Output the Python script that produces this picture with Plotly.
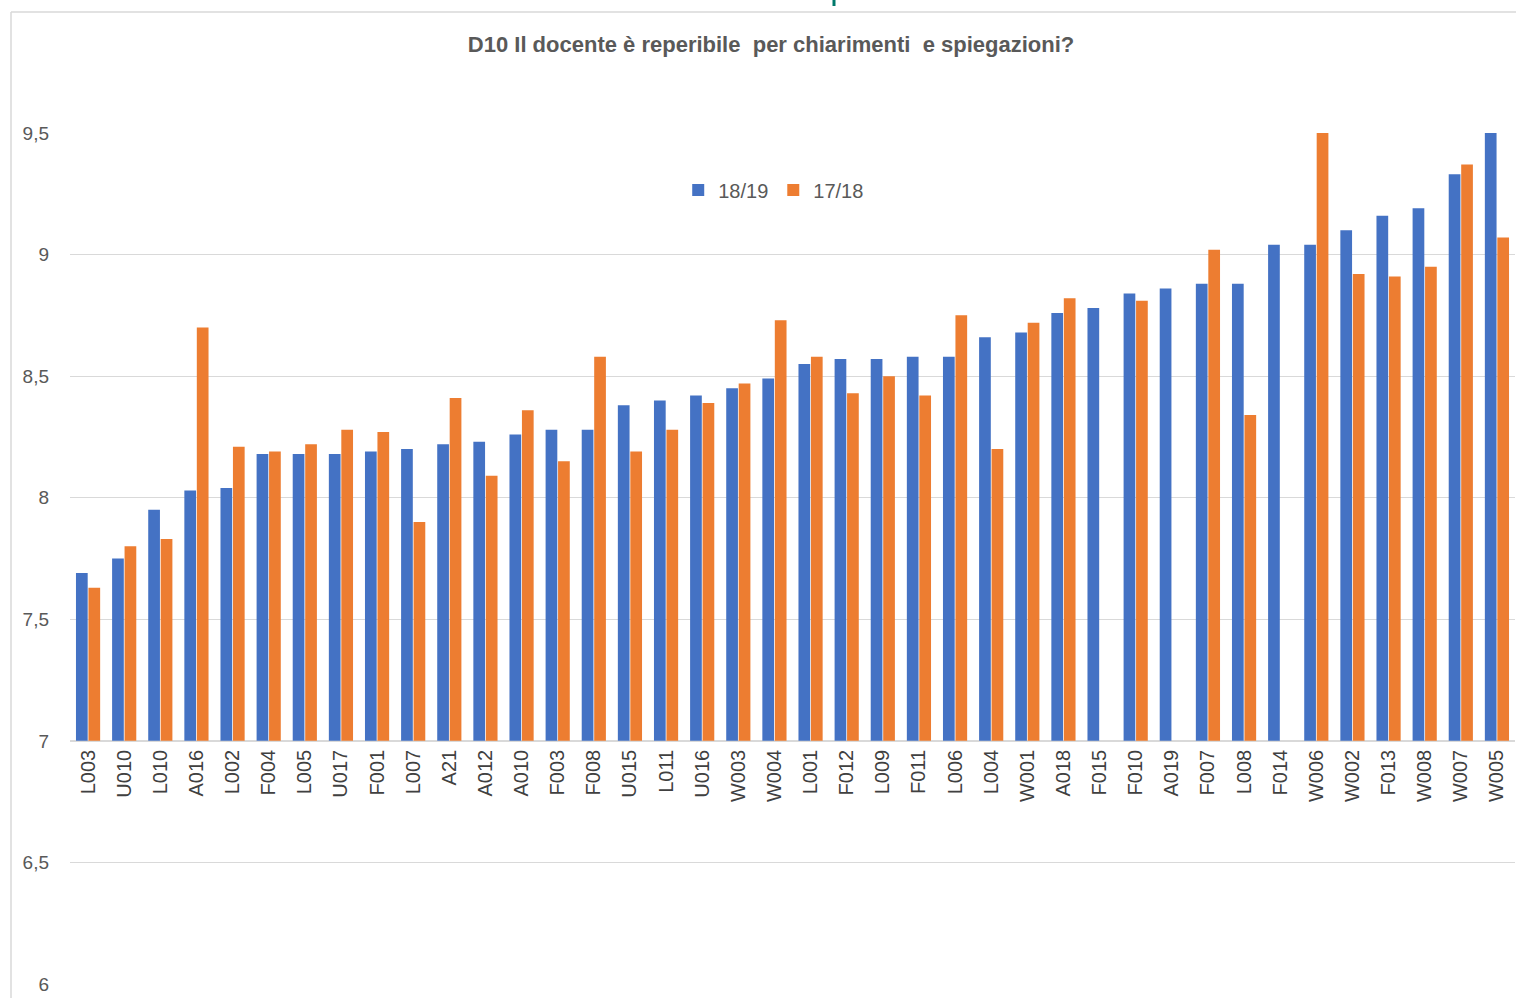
import plotly.graph_objects as go

categories = ["L003", "U010", "L010", "A016", "L002", "F004", "L005", "U017", "F001", "L007",
              "A21", "A012", "A010", "F003", "F008", "U015", "L011", "U016", "W003", "W004",
              "L001", "F012", "L009", "F011", "L006", "L004", "W001", "A018", "F015", "F010",
              "A019", "F007", "L008", "F014", "W006", "W002", "F013", "W008", "W007", "W005"]

s1819 = [7.69, 7.75, 7.95, 8.03, 8.04, 8.18, 8.18, 8.18, 8.19, 8.20,
         8.22, 8.23, 8.26, 8.28, 8.28, 8.38, 8.40, 8.42, 8.45, 8.49,
         8.55, 8.57, 8.57, 8.58, 8.58, 8.66, 8.68, 8.76, 8.78, 8.84,
         8.86, 8.88, 8.88, 9.04, 9.04, 9.10, 9.16, 9.19, 9.33, 9.55]

s1718 = [7.63, 7.80, 7.83, 8.70, 8.21, 8.19, 8.22, 8.28, 8.27, 7.90,
         8.41, 8.09, 8.36, 8.15, 8.58, 8.19, 8.28, 8.39, 8.47, 8.73,
         8.58, 8.43, 8.50, 8.42, 8.75, 8.20, 8.72, 8.82, None, 8.81,
         None, 9.02, 8.34, None, 9.55, 8.92, 8.91, 8.95, 9.37, 9.07]

BASE = 7
y_ticks = [6, 6.5, 7, 7.5, 8, 8.5, 9, 9.5]

def rel(vals):
    return [None if v is None else v - BASE for v in vals]

fig = go.Figure()
fig.add_trace(go.Bar(x=categories, y=rel(s1819), base=BASE, name="18/19",
                     marker=dict(color="#4472C4", line=dict(width=0))))
fig.add_trace(go.Bar(x=categories, y=rel(s1718), base=BASE, name="17/18",
                     marker=dict(color="#ED7D31", line=dict(width=0))))

fig.update_layout(
    width=1516, height=998,
    paper_bgcolor="white", plot_bgcolor="white",
    margin=dict(l=70, r=1, t=133, b=14),
    separators=",.",
    barmode="group", bargap=0.31, bargroupgap=0.06,
    title=dict(text="<b>D10 Il docente è reperibile  per chiarimenti  e spiegazioni?</b>",
               x=0.5086, xanchor="center", y=1 - 44 / 998, yanchor="middle",
               font=dict(family="Liberation Sans, Arial", size=22, color="#595959")),
    legend=dict(orientation="h", x=0.487, xanchor="center", y=0.933, yanchor="middle",
                font=dict(family="Liberation Sans, Arial", size=20, color="#595959"),
                bgcolor="rgba(0,0,0,0)", itemwidth=30, tracegroupgap=0),
    font=dict(family="Liberation Sans, Arial", color="#595959"),
    showlegend=True,
)

fig.update_yaxes(range=[6, 9.5], tickvals=y_ticks, showgrid=True, gridcolor="#D9D9D9",
                 gridwidth=1, zeroline=False, showline=False,
                 tickfont=dict(size=19, color="#595959"), ticklabelstandoff=20)
fig.update_xaxes(type="category", anchor="free", position=(BASE - 6) / 3.5,
                 tickangle=-90, showgrid=False, showline=True, linecolor="#D9D9D9",
                 ticks="", tickfont=dict(size=20, color="#404040"),
                 range=[-0.5, len(categories) - 0.5])

# outer chart frame (top and left edges) and small mark at the top
fig.add_shape(type="line", xref="paper", yref="paper", x0=(11 - 70) / 1445, x1=1.01,
              y0=(984 - 12) / 851, y1=(984 - 12) / 851, line=dict(color="#D9D9D9", width=1.5))
fig.add_shape(type="line", xref="paper", yref="paper", x0=(11 - 70) / 1445, x1=(11 - 70) / 1445,
              y0=-0.02, y1=(984 - 12) / 851, line=dict(color="#D9D9D9", width=1.5))
fig.add_shape(type="line", xref="paper", yref="paper", x0=(834 - 70) / 1445, x1=(834 - 70) / 1445,
              y0=(984 - 0) / 851, y1=(984 - 6) / 851, line=dict(color="#00796B", width=3))

fig.write_html("out.html", config={"displayModeBar": False},
               post_script="document.body.style.margin='0';document.body.style.overflow='hidden';")
